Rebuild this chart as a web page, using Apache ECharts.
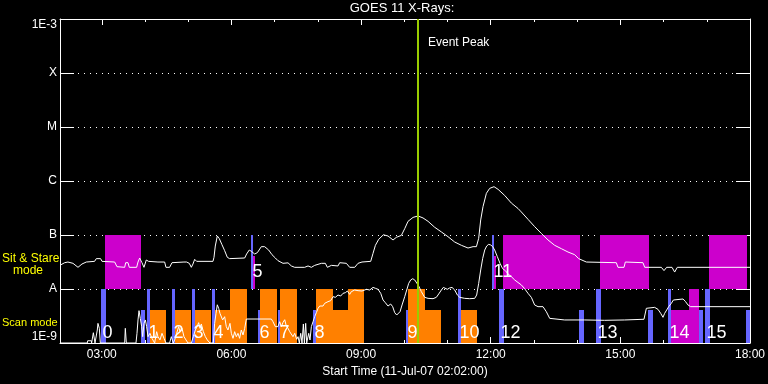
<!DOCTYPE html>
<html><head><meta charset="utf-8">
<script src="https://cdn.jsdelivr.net/npm/echarts@6/dist/echarts.min.js"></script>
<style>html,body{margin:0;padding:0;background:#000}#c{width:768px;height:384px}</style>
</head><body><div id="c"></div><script>
// ---- data (time in minutes after 00:00 UT on 11-Jul-07, flux in W/m^2) ----
const startMinute = 122;   // 02:02
const endMinute = 1080;    // 18:00
const xTickMinutes = [180, 360, 540, 720, 900, 1080];
const xTickLabels = ['03:00', '06:00', '09:00', '12:00', '15:00', '18:00'];
const hourTicks = [180, 240, 300, 360, 420, 480, 540, 600, 660, 720, 780, 840, 900, 960, 1020, 1080];
const yTickLabels = ['1E-9', 'A', 'B', 'C', 'M', 'X', '1E-3'];
const eventPeakMinute = 619;

const longChannel = [
[122,2.75e-8],[123,2.78e-8],[128.5,3.07e-8],[133,3.16e-8],[140,2.99e-8],[147,2.52e-8],[152.5,2.9e-8],[158.5,3.16e-8],[170,3.25e-8],[172.4,3.65e-8],[178.4,3.65e-8],[180.3,3.25e-8],[197.9,3.16e-8],[201.1,2.59e-8],[211.8,2.52e-8],[213.2,3.07e-8],[216.4,3.07e-8],[218.2,2.52e-8],[228.4,2.52e-8],[230.3,3.16e-8],[232.6,3.75e-8],[235.8,3.07e-8],[238.6,2.52e-8],[241.8,3.44e-8],[245,3.25e-8],[258,3.16e-8],[267.3,3.16e-8],[269.1,2.52e-8],[274.2,2.52e-8],[277.5,3.07e-8],[294.1,3.16e-8],[295.5,3.44e-8],[297.8,3.16e-8],[301.5,2.99e-8],[304.3,2.52e-8],[306.6,2.9e-8],[309,3.54e-8],[311.7,3.25e-8],[334.4,3.25e-8],[335.8,3.86e-8],[337.6,6.25e-8],[340.4,9.58e-8],[343.2,8.55e-8],[346.9,6.62e-8],[350.6,5.13e-8],[354.3,3.86e-8],[357.5,3.65e-8],[378.4,3.75e-8],[381.1,4.45e-8],[384.8,5.27e-8],[387.6,4.99e-8],[392.3,4.45e-8],[396,4.71e-8],[401.5,6.08e-8],[406.1,6.08e-8],[411.7,5.27e-8],[416.3,4.32e-8],[421,3.75e-8],[424.6,3.35e-8],[431.6,2.99e-8],[438.6,3.05e-8],[443.2,2.67e-8],[447.9,2.52e-8],[461.7,2.52e-8],[466.4,2.67e-8],[471,2.52e-8],[475.6,2.74e-8],[484.9,2.99e-8],[490.4,2.99e-8],[493.2,2.52e-8],[498.8,2.74e-8],[508,2.67e-8],[510.3,3.07e-8],[519.6,2.99e-8],[524.2,2.52e-8],[531.2,2.52e-8],[535.8,2.99e-8],[541.3,3.16e-8],[553.4,3.25e-8],[556.6,4.57e-8],[559.9,6.44e-8],[564.5,8.32e-8],[571,1.01e-7],[577.4,9.58e-8],[584.4,8.08e-8],[589,9.05e-8],[596,9.86e-8],[600.6,1.31e-7],[605.2,1.79e-7],[612.2,2.12e-7],[619.1,2.25e-7],[626,2.07e-7],[633,1.79e-7],[642.2,1.39e-7],[651.5,1.14e-7],[660.7,9.31e-8],[670,7.41e-8],[679.3,6.44e-8],[688.5,5.74e-8],[695.5,6.08e-8],[700.1,6.08e-8],[703.3,8.67e-8],[706.1,1.9e-7],[709.3,3.35e-7],[714,5.91e-7],[718.6,7.31e-7],[724.6,7.85e-7],[730.2,7.01e-7],[739.4,5.4e-7],[748.7,3.9e-7],[757.9,3.1e-7],[762.5,2.67e-7],[771.8,1.95e-7],[781,1.43e-7],[790.3,1.07e-7],[799.6,8.08e-8],[808.8,6.44e-8],[818.1,5.58e-8],[827.3,4.84e-8],[836.6,4.32e-8],[842.1,3.65e-8],[852.8,3.16e-8],[894.4,3.07e-8],[896.7,2.52e-8],[905.1,2.52e-8],[906.9,3.16e-8],[931.4,3.07e-8],[933.8,2.52e-8],[956.9,2.52e-8],[960.6,2.19e-8],[964.3,2.52e-8],[971.7,2.52e-8],[975.4,2.06e-8],[979.1,2.52e-8],[1080,2.52e-8]
];

const shortChannel = [
[122,1e-9],[159.9,1e-9],[160.4,1.1e-9],[165.5,1.1e-9],[165.9,1e-9],[167.8,1e-9],[168.3,1.55e-9],[169.6,1.47e-9],[170.6,1e-9],[172.9,1e-9],[173.8,1.74e-9],[174.7,2.31e-9],[176.6,1.87e-9],[178,1e-9],[211.8,1e-9],[212.7,1.87e-9],[214.1,1e-9],[227.5,1e-9],[228.9,1.51e-9],[230.3,2.67e-9],[231.7,3.97e-9],[233.5,2.86e-9],[235.4,2.01e-9],[236.8,1.31e-9],[238.6,2.31e-9],[240.5,2.67e-9],[242.3,2.01e-9],[244.2,1.31e-9],[246.9,1.51e-9],[249.7,1.22e-9],[253.4,1e-9],[256.2,1.62e-9],[258,1.31e-9],[260.8,1.14e-9],[263.6,1.51e-9],[266.4,1.22e-9],[269.1,1e-9],[274.2,1e-9],[276.6,1.31e-9],[279.3,1e-9],[281.2,1.14e-9],[284,1.51e-9],[286.7,2.01e-9],[288.6,1.62e-9],[291.4,1.87e-9],[294.1,1.31e-9],[296.9,1.14e-9],[299.7,1e-9],[304.3,1e-9],[307.1,1.31e-9],[309.9,1.74e-9],[312.7,2.06e-9],[314.5,2.38e-9],[316.4,1.87e-9],[318.2,2.25e-9],[321,1.62e-9],[323.8,1.31e-9],[326.5,1.14e-9],[330.2,1e-9],[334.9,1e-9],[336.7,2.31e-9],[338.6,3.54e-9],[340.4,5.1e-9],[342.3,4.39e-9],[344.1,3.54e-9],[346,3.8e-9],[347.8,2.67e-9],[350.6,3.07e-9],[352.9,2.01e-9],[355.2,1.74e-9],[358,2.31e-9],[359.9,1.51e-9],[362.2,1.22e-9],[364.5,1.62e-9],[366.8,1.31e-9],[369.1,1.51e-9],[371.4,1.22e-9],[373.7,1.74e-9],[376.1,1.41e-9],[378.4,1.87e-9],[380.7,2.78e-9],[415.4,2.78e-9],[417.7,2.48e-9],[421,2.01e-9],[424.6,2.01e-9],[427,2.48e-9],[429.3,2.01e-9],[431.6,2.4e-9],[434,2.7e-9],[436.2,2.06e-9],[438.6,1.87e-9],[440.9,1.62e-9],[443.2,1.74e-9],[445.5,1.31e-9],[447.9,1.51e-9],[450.6,1.17e-9],[452.5,1.31e-9],[454.3,1e-9],[456.2,1.51e-9],[458,1e-9],[459.9,2.25e-9],[461.3,1e-9],[463.1,2.31e-9],[464.5,1e-9],[467.3,1.51e-9],[469.1,1.14e-9],[471,2.01e-9],[473.3,2.48e-9],[475.6,3.07e-9],[477.9,3.65e-9],[480.3,4.39e-9],[482.6,4.84e-9],[484.9,5.27e-9],[487.2,4.84e-9],[489.5,5.43e-9],[491.8,5.06e-9],[494.1,5.83e-9],[497.8,6.08e-9],[501.1,7.21e-9],[504.3,7.01e-9],[508,7.74e-9],[511.7,7.41e-9],[515,8.32e-9],[518.2,8.55e-9],[521,9.18e-9],[524.2,7.96e-9],[526.5,8.93e-9],[531.2,9.58e-9],[535.8,9.31e-9],[541.3,9.18e-9],[547.4,9.86e-9],[552,9.58e-9],[556.6,1.07e-8],[559.9,1.03e-8],[563.6,9.86e-9],[567.3,8.32e-9],[570.5,6.25e-9],[573.7,5.58e-9],[577.4,4.84e-9],[581.1,5.27e-9],[583.9,4.71e-9],[586.7,3.65e-9],[589.5,3.3e-9],[591.3,3.07e-9],[594.1,3.8e-9],[596.9,5.06e-9],[600.6,7.21e-9],[603.4,9.58e-9],[606.1,1.27e-8],[608.9,1.47e-8],[611.7,1.55e-8],[614.5,1.47e-8],[617.2,1.51e-8],[620,1.14e-8],[623.7,8.93e-9],[628.3,7.01e-9],[633,6.71e-9],[639.9,6.62e-9],[644.5,7.01e-9],[647.8,8.08e-9],[651.5,9.58e-9],[654.3,1.07e-8],[657,1.1e-8],[659.8,9.86e-9],[662.6,1.04e-8],[666.3,1.07e-8],[670,9.58e-9],[673.7,7.74e-9],[677,7.01e-9],[683.9,6.71e-9],[690.8,6.62e-9],[697.8,6.71e-9],[700.5,7.74e-9],[703.3,1.27e-8],[706.1,2.25e-8],[708.9,3.7e-8],[711.7,5.27e-8],[714.4,6.25e-8],[717.2,6.71e-8],[720,6.53e-8],[722.8,6.08e-8],[725.5,5.27e-8],[729.2,3.97e-8],[732.9,2.99e-8],[736.6,2.38e-8],[740.3,2.19e-8],[744.1,1.9e-8],[748.7,1.69e-8],[753.3,1.47e-8],[757.9,1.32e-8],[762.5,1.19e-8],[767.2,1.01e-8],[771.8,8.32e-9],[776.4,7.01e-9],[781,5.06e-9],[785.7,4.71e-9],[792.6,4.71e-9],[797.2,3.8e-9],[801.9,2.86e-9],[804.2,2.75e-9],[822.7,2.67e-9],[850.5,2.67e-9],[878.2,2.63e-9],[906,2.67e-9],[932.8,2.75e-9],[936.1,4.39e-9],[938.4,4.57e-9],[947.6,4.57e-9],[952.3,4.2e-9],[956,3.54e-9],[959.2,2.99e-9],[961.5,3.54e-9],[964.3,4.08e-9],[967.1,4.71e-9],[970.8,5.43e-9],[973.6,6.25e-9],[976.3,6.53e-9],[987,6.53e-9],[990.2,5.91e-9],[993.9,5.06e-9],[997.6,4.71e-9],[1080,4.71e-9]
];

// observation blocks [start, end] in minutes
const scanFull = [[358.0,381.6],[399.3,422.9],[427.5,451.1],[477.0,500.6],[521.9,544.1],[605.2,628.4]];
const scanPartial = [[247.0,268.8],[281.3,303.9],[309.0,331.2],[336.8,358.0],[500.6,521.9],[628.4,650.6],[678.3,701.0]];
const sitStareFull = [[184.5,234.0],[737.1,843.6],[871.7,939.3],[1023.1,1075.9]];
const sitStarePartial = [[390.0,392.7],[724.6,727.4]];
const sitStareScanFull = [[995.3,1009.2]];
const sitStareScanPartial = [[970.8,995.3]];
const pointingFull = [[179.3,185.5],[242.8,247.0],[277.5,281.3],[305.3,309.0],[333.0,336.8],[674.6,678.3],[731.5,738.0],[866.2,873.1],[966.2,970.8],[1017.5,1024.4]];
const pointingPartial = [[234.5,240.0],[396.5,399.3],[424.7,427.5],[473.3,477.0],[602.4,605.2],[842.6,849.5],[938.4,945.4],[1009.2,1014.7],[1074.7,1080]];
const pointingSitStare = [[387.2,390.0],[721.8,724.6]];

// numbered events: start minute and mode
const eventStarts = [179.3, 242.8, 277.5, 305.3, 333.0, 387.2, 396.5, 424.7, 473.3, 602.4, 674.6, 721.8, 731.5, 866.2, 966.2, 1017.5];
const eventModes = ['scan','scan','scan','scan','scan','sit','scan','scan','scan','scan','scan','sit','scan','scan','scan','scan'];
const eventNames = ['0','1','2','3','4','5','6','7','8','9','10','11','12','13','14','15'];

// ---- chart ----
const FONT = 'Liberation Sans';
const ORANGE = '#ff8000', MAGENTA = '#cc00cc', BLUE = '#6666ff';
const LOW = [1e-9, 1e-8], LOW_PART = [1e-9, 4.08e-9], UP = [1e-8, 1e-7], UP_PART = [1e-8, 4.08e-8];

function blocks(name, data, band, color) {
  return {
    type: 'custom', name, data, z: 1, silent: true, animation: false,
    dimensions: ['start', 'end'], encode: { x: [0, 1] },
    renderItem: function (params, api) {
      const p0 = api.coord([api.value(0), band[1]]);
      const p1 = api.coord([api.value(1), band[0]]);
      const x0 = Math.round(p0[0]), x1 = Math.round(p1[0]);
      const y0 = Math.round(p0[1]), y1 = Math.round(p1[1]);
      return { type: 'rect', shape: { x: x0, y: y0, width: Math.max(1, x1 - x0), height: y1 - y0 }, style: { fill: color } };
    }
  };
}

function hhmm(m) {
  const i = xTickMinutes.indexOf(Math.round(m));
  return i >= 0 ? xTickLabels[i] : '';
}

const chart = echarts.init(document.getElementById('c'), null, { renderer: 'canvas' });

const xCommon = { type: 'value', min: startMinute, max: endMinute, splitLine: { show: false } };

chart.setOption({
  backgroundColor: '#000',
  animation: false,
  title: {
    text: 'GOES 11 X-Rays:', left: 402, top: 2, textAlign: 'center', padding: 0,
    textStyle: { color: '#fff', fontSize: 13, fontWeight: 'normal', fontFamily: FONT }
  },
  grid: { left: 60, right: 18, top: 19, bottom: 41, outerBoundsMode: 'none' },
  xAxis: [
    Object.assign({}, xCommon, {
      position: 'bottom',
      axisLine: { show: true, lineStyle: { color: '#fff', width: 1 } },
      axisTick: { show: true, inside: true, length: 6, customValues: xTickMinutes, lineStyle: { color: '#fff' } },
      axisLabel: { show: true, customValues: xTickMinutes, formatter: hhmm, color: '#fff', fontSize: 12, fontFamily: FONT, margin: 6 },
      name: 'Start Time (11-Jul-07 02:02:00)', nameLocation: 'middle', nameGap: 19,
      nameTextStyle: { color: '#fff', fontSize: 12, fontFamily: FONT, verticalAlign: 'top' }
    }),
    Object.assign({}, xCommon, {
      position: 'bottom', axisLine: { show: false },
      axisTick: { show: true, inside: true, length: 3, customValues: hourTicks, lineStyle: { color: '#fff' } },
      axisLabel: { show: false }
    }),
    Object.assign({}, xCommon, {
      position: 'top',
      axisLine: { show: true, lineStyle: { color: '#fff', width: 1 } },
      axisTick: { show: true, inside: true, length: 6, customValues: xTickMinutes, lineStyle: { color: '#fff' } },
      axisLabel: { show: false }
    }),
    Object.assign({}, xCommon, {
      position: 'top', axisLine: { show: false },
      axisTick: { show: true, inside: true, length: 3, customValues: hourTicks, lineStyle: { color: '#fff' } },
      axisLabel: { show: false }
    })
  ],
  yAxis: [
    {
      type: 'log', logBase: 10, min: 1e-9, max: 1e-3, position: 'left',
      axisLine: { show: true, lineStyle: { color: '#fff', width: 1 } },
      axisTick: { show: true, inside: true, length: 14, lineStyle: { color: '#fff' } },
      splitLine: { show: true, lineStyle: { color: '#fff', type: [1, 5], width: 1 } },
      axisLabel: {
        color: '#fff', fontSize: 12, fontFamily: FONT, margin: 3,
        showMinLabel: true, showMaxLabel: true,
        verticalAlignMinLabel: 'bottom', verticalAlignMaxLabel: 'top',
        formatter: function (v) { return yTickLabels[Math.round(Math.log10(v)) + 9] || ''; }
      }
    },
    {
      type: 'log', logBase: 10, min: 1e-9, max: 1e-3, position: 'right',
      axisLine: { show: true, lineStyle: { color: '#fff', width: 1 } },
      axisTick: { show: true, inside: true, length: 14, lineStyle: { color: '#fff' } },
      splitLine: { show: false },
      axisLabel: { show: false }
    }
  ],
  graphic: [
    { type: 'text', left: 2, top: 253, style: { text: 'Sit & Stare', fill: '#ffff00', font: '12px "' + FONT + '"' } },
    { type: 'text', left: 13, top: 265, style: { text: 'mode', fill: '#ffff00', font: '12px "' + FONT + '"' } },
    { type: 'text', left: 2, top: 317, style: { text: 'Scan mode', fill: '#ffff00', font: '11px "' + FONT + '"' } }
  ],
  series: [
    blocks('pointing', pointingFull, LOW, BLUE),
    blocks('pointing partial', pointingPartial, LOW_PART, BLUE),
    blocks('pointing sit', pointingSitStare, UP, BLUE),
    blocks('scan', scanFull, LOW, ORANGE),
    blocks('scan partial', scanPartial, LOW_PART, ORANGE),
    blocks('sit & stare', sitStareFull, UP, MAGENTA),
    blocks('sit & stare partial', sitStarePartial, UP_PART, MAGENTA),
    blocks('sit & stare scan', sitStareScanFull, LOW, MAGENTA),
    blocks('sit & stare scan partial', sitStareScanPartial, LOW_PART, MAGENTA),
    {
      type: 'custom', name: 'event numbers', z: 2, silent: true, animation: false,
      data: eventStarts.map(function (t, i) { return [t, i]; }),
      dimensions: ['start', 'idx'], encode: { x: 0 },
      renderItem: function (params, api) {
        const i = api.value(1);
        const sit = eventModes[i] === 'sit';
        const p = api.coord([api.value(0), sit ? 1e-8 : 1e-9]);
        return {
          type: 'text', x: Math.round(p[0]) + 1.5, y: p[1] - (sit ? 16.6 : 9.5),
          style: { text: eventNames[i], fill: '#fff', font: '18px "' + FONT + '"', align: 'left', verticalAlign: 'middle', textAlign: 'left', textVerticalAlign: 'middle' }
        };
      }
    },
    {
      type: 'line', name: '1-8 A', data: longChannel, showSymbol: false, symbol: 'none', z: 3,
      lineStyle: { color: '#fff', width: 1 }, clip: true, silent: true
    },
    {
      type: 'line', name: '0.5-4 A', data: shortChannel, showSymbol: false, symbol: 'none', z: 3,
      lineStyle: { color: '#fff', width: 1 }, clip: true, silent: true
    },
    {
      type: 'custom', name: 'event peak', z: 4, silent: true, animation: false,
      data: [[eventPeakMinute]], dimensions: ['t'], encode: { x: 0 },
      renderItem: function (params, api) {
        const top = api.coord([api.value(0), 1e-3]);
        const bot = api.coord([api.value(0), 1e-9]);
        const x = Math.round(top[0]);
        return {
          type: 'group', children: [
            { type: 'line', shape: { x1: x, y1: top[1], x2: x, y2: bot[1] }, style: { stroke: '#99cc00', lineWidth: 2 } },
            { type: 'text', x: x + 10, y: top[1] + 24, style: { text: 'Event Peak', fill: '#fff', font: '12px "' + FONT + '"', align: 'left', verticalAlign: 'middle', textAlign: 'left', textVerticalAlign: 'middle' } }
          ]
        };
      }
    }
  ]
});
</script></body></html>
